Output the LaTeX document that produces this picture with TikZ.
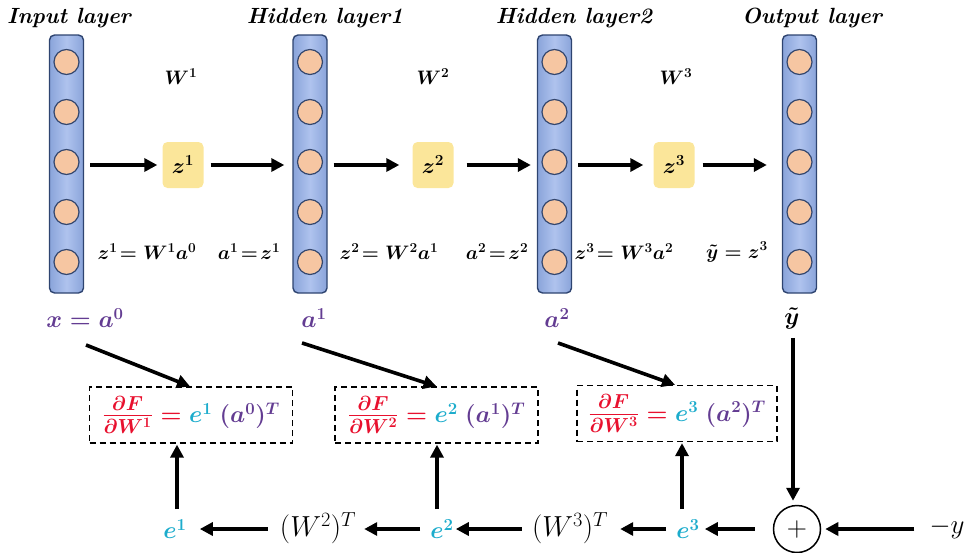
\RequirePackage{fix-cm}
\documentclass[tikz,border=0pt]{standalone}
\usepackage{amsmath}
\usetikzlibrary{arrows.meta}
\definecolor{barblue}{HTML}{8AA4DA}
\definecolor{barlight}{HTML}{AFC3EE}
\definecolor{barline}{HTML}{2E4470}
\definecolor{nline}{HTML}{34476E}
\definecolor{peach}{HTML}{F6C6A2}
\definecolor{zyel}{HTML}{FBE69A}
\definecolor{fred}{HTML}{E8102E}
\definecolor{ecyan}{HTML}{1CACCC}
\definecolor{apurp}{HTML}{633C92}
\newcommand{\titlefont}{\fontsize{22}{26}\selectfont\bfseries\itshape}
\newcommand{\eqfont}{\fontsize{19.5}{23}\selectfont\boldmath}
\newcommand{\zfont}{\fontsize{22}{26}\selectfont\boldmath}
\newcommand{\boxfont}{\fontsize{24}{28}\selectfont\boldmath}
\newcommand{\bigfont}{\fontsize{24}{28}\selectfont\boldmath}
\newcommand{\regfont}{\fontsize{29}{33}\selectfont}
\newcommand{\dfr}[1]{{\fontsize{29}{32}\selectfont\boldmath$\color{fred}\frac{\partial F}{\partial W^{#1}}$}}
\begin{document}
\begin{tikzpicture}[x=1pt,y=-1pt,
  bar/.style={draw=barline, line width=1.4pt, rounded corners=5pt, left color=barblue, right color=barblue, middle color=barlight, minimum width=34pt, minimum height=258pt, inner sep=0pt},
  neuron/.style={circle, draw=nline, line width=1.2pt, fill=peach, minimum size=25pt, inner sep=0pt},
  zbox/.style={rounded corners=5pt, fill=zyel, minimum width=41pt, minimum height=46pt, inner sep=0pt, font=\zfont},
  ttl/.style={font=\titlefont, inner sep=0pt},
  eq/.style={font=\eqfont, inner sep=0pt},
  arr/.style={line width=3.6pt, -{Triangle[length=13pt,width=13pt]}},
  dbox/.style={draw, dash pattern=on 6pt off 4pt, line width=1.3pt, minimum width=203pt, minimum height=56pt, inner sep=0pt, font=\boxfont},
  sumc/.style={circle, draw, line width=1.5pt, minimum size=47pt, inner sep=0pt, font=\fontsize{28}{30}\selectfont},
]
\useasboundingbox (0,0) rectangle (973,552);
% layers
\node[bar] (Lin) at (66.5,164) {};
\node[bar] (Lh1) at (310,164) {};
\node[bar] (Lh2) at (554.5,164) {};
\node[bar] (Lout) at (799.5,164) {};
\foreach \L/\x in {in/66.5,h1/310,h2/554.5,out/799.5}{
  \foreach \i/\y in {1/62,2/112,3/162,4/212,5/262}{
    \node[neuron] (\L-\i) at (\x,\y) {};
  }
}
% titles
\node[ttl] (tin) at (69,18) {Input layer};
\node[ttl] (th1) at (325,18) {Hidden layer1};
\node[ttl] (th2) at (574,18) {Hidden layer2};
\node[ttl] (tout) at (812,18) {Output layer};
% z boxes
\node[zbox] (z1) at (183,165) {$z^1$};
\node[zbox] (z2) at (433,165) {$z^2$};
\node[zbox] (z3) at (674,165) {$z^3$};
% W labels
\node[eq] (W1) at (181,77) {$W^1$};
\node[eq] (W2) at (433,77) {$W^2$};
\node[eq] (W3) at (676,77) {$W^3$};
% forward arrows
\coordinate (p0) at (Lin.east |- z1.west);
\coordinate (p1) at (Lh1.west |- z1.east);
\coordinate (p2) at (Lh1.east |- z2.west);
\coordinate (p3) at (Lh2.west |- z2.east);
\coordinate (p4) at (Lh2.east |- z3.west);
\coordinate (p5) at (Lout.west |- z3.east);
\draw[arr, shorten <=6pt, shorten >=5pt] (p0) -- (z1.west);
\draw[arr, shorten <=7pt, shorten >=8pt] (z1.east) -- (p1);
\draw[arr, shorten <=6pt, shorten >=13pt] (p2) -- (z2.west);
\draw[arr, shorten <=13pt, shorten >=6pt] (z2.east) -- (p3);
\draw[arr, shorten <=6pt, shorten >=10pt] (p4) -- (z3.west);
\draw[arr, shorten <=8pt, shorten >=15pt] (z3.east) -- (p5);
% equations
\node[eq] (e1eq) at (147,252) {$z^1\!= W^1a^0$};
\node[eq] (a1eq) at (249,252) {$a^1\!=\!z^1$};
\node[eq] (e2eq) at (389,252) {$z^2\!= W^2a^1$};
\node[eq] (a2eq) at (497,252) {$a^2\!=\!z^2$};
\node[eq] (e3eq) at (624,252) {$z^3\!= W^3a^2$};
\node[eq] (yeq) at (737,252) {$\tilde{y} = z^3$};
% bottom-top labels
\node[font=\bigfont, text=apurp, inner sep=0pt] (xa) at (85,318) {$x = a^0$};
\node[font=\bigfont, text=apurp, inner sep=0pt] (a1) at (314,318) {$a^1$};
\node[font=\bigfont, text=apurp, inner sep=0pt] (a2) at (557,318) {$a^2$};
\node[font=\bigfont, inner sep=0pt] (yt) at (792,318) {$\tilde{y}$};
% dashed boxes
\node[dbox] (B1) at (191,415) {\dfr{1}$\color{fred}{}={}\color{ecyan}e^1\ \color{apurp}(a^0)^T$};
\node[dbox] (B2) at (436.5,415) {\dfr{2}$\color{fred}{}={}\color{ecyan}e^2\ \color{apurp}(a^1)^T$};
\node[dbox, minimum width=200pt] (B3) at (677,413.5) {\dfr{3}$\color{fred}{}={}\color{ecyan}e^3\ \color{apurp}(a^2)^T$};
% bottom row
\node[font=\bigfont, text=ecyan, inner sep=0pt] (e1) at (175,529) {$e^1$};
\node[font=\regfont, inner sep=0pt] (W2T) at (318,528) {$(W^2)^T$};
\node[font=\bigfont, text=ecyan, inner sep=0pt] (e2) at (442,529) {$e^2$};
\node[font=\regfont, inner sep=0pt] (W3T) at (570,528) {$(W^3)^T$};
\node[font=\bigfont, text=ecyan, inner sep=0pt] (e3) at (688,529) {$e^3$};
\node[sumc] (S) at (797,529) {$+$};
\node[font=\fontsize{27}{30}\selectfont, inner sep=0pt] (my) at (947,528) {$-y$};
% diagonal arrows
\draw[arr] ([xshift=1pt,yshift=-17pt]xa.south) -- ([xshift=-1pt]B1.north);
\draw[arr] ([xshift=-12pt,yshift=-15pt]a1.south) -- (B2.north);
\draw[arr] ([xshift=1pt,yshift=-15pt]a2.south) -- ([xshift=-2pt]B3.north);
% vertical arrows
\draw[arr, shorten <=10pt, shorten >=1pt] ([xshift=2pt]e1.north) -- ([xshift=2pt]e1.north |- B1.south);
\draw[arr, shorten <=10pt, shorten >=1pt] ([xshift=-5pt]e2.north) -- ([xshift=-5pt]e2.north |- B2.south);
\draw[arr, shorten <=10pt, shorten >=1pt] ([xshift=-6pt]e3.north) -- ([xshift=-6pt]e3.north |- B3.south);
\draw[arr, shorten <=9pt, shorten >=4pt] ([xshift=1pt]yt.south) -- ([xshift=-4pt]S.north);
% horizontal back arrows
\draw[arr, shorten <=18pt, shorten >=5pt] (S.west) -- (S.west -| e3.east);
\draw[arr, shorten <=10pt, shorten >=12pt] (e3.west) -- (e3.west -| W3T.east);
\draw[arr, shorten <=10pt, shorten >=2pt] (W3T.west |- e2.east) -- (e2.east);
\draw[arr, shorten <=10pt, shorten >=8pt] (e2.west) -- (e2.west -| W2T.east);
\draw[arr, shorten <=12pt, shorten >=13pt] (W2T.west |- e1.east) -- (e1.east);
\draw[arr, shorten <=15pt, shorten >=4pt] (my.west |- S.east) -- (S.east);
\end{tikzpicture}
\end{document}
